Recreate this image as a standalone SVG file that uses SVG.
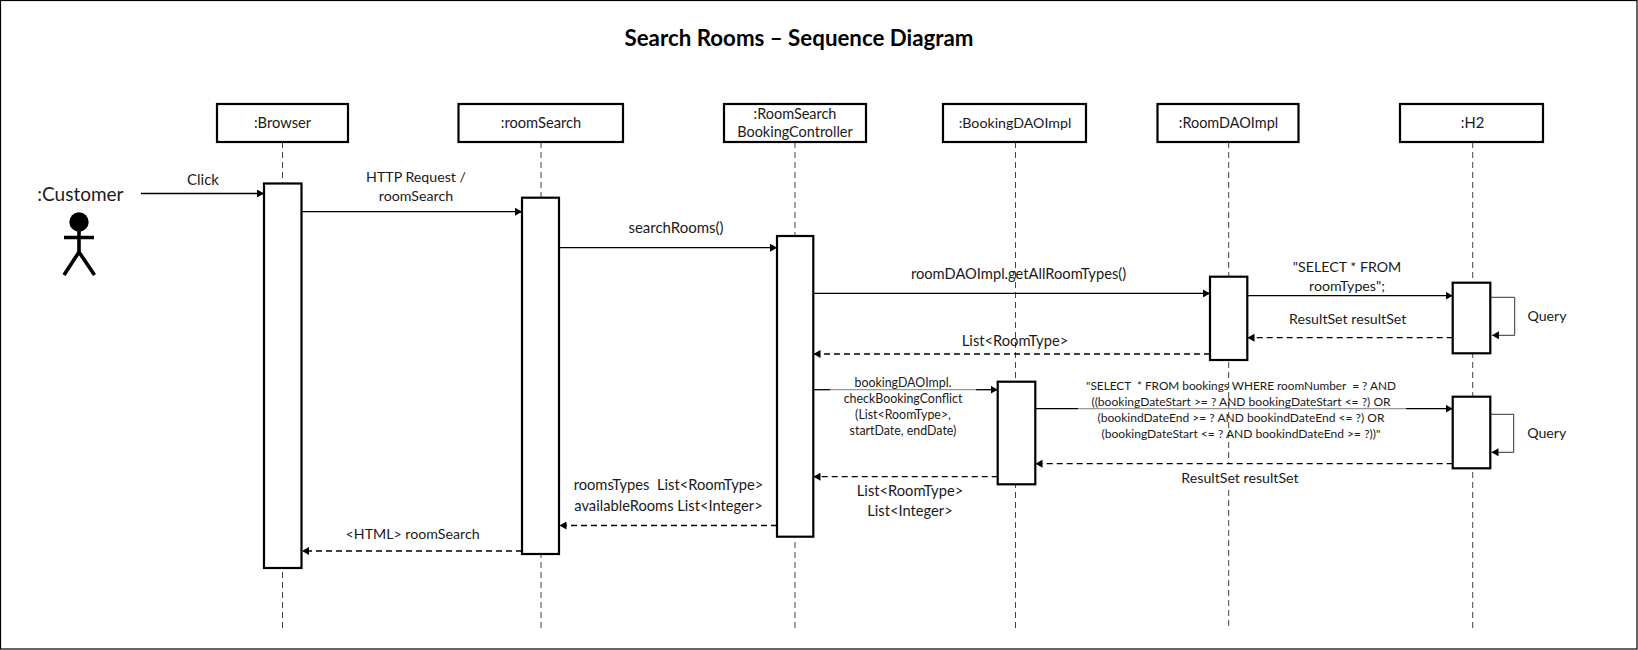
<svg xmlns="http://www.w3.org/2000/svg" width="1638" height="650" viewBox="0 0 1638 650">
<style>
text{font-family:Lato,"Liberation Sans",sans-serif;fill:#1a1a1a;text-anchor:middle;font-size:14.7px;white-space:pre}
.box{fill:#fff;stroke:#000;stroke-width:2.2}
.life{fill:none;stroke:#444;stroke-width:1;stroke-dasharray:6 4}
.msg{fill:none;stroke:#000;stroke-width:1.3;marker-end:url(#a)}
.ret{fill:none;stroke:#000;stroke-width:1.3;stroke-dasharray:6 4;marker-end:url(#a)}
.seg{fill:none;stroke:#000;stroke-width:1.3}
.gray{fill:none;stroke:#999;stroke-width:1.2}
.self{fill:none;stroke:#333;stroke-width:1;marker-end:url(#a)}
.sm{font-size:12.4px}
.sql{font-size:11.8px}
.sql2{font-size:12.05px}
.n{font-size:14.2px}
.m{font-size:14.45px}
.w{font-size:15px}
.actor{fill:none;stroke:#000;stroke-width:3.6}
</style>
<defs><marker id="a" markerUnits="userSpaceOnUse" markerWidth="8" markerHeight="8" refX="7" refY="4" orient="auto"><path d="M0 0L7 4L0 8Z" fill="#000"/></marker></defs>
<rect x="0.5" y="0.5" width="1636.5" height="648.5" fill="#fff" stroke="#000" stroke-width="1.2"/>
<text id="title" x="799" y="46" style="font-size:22.3px;font-weight:700;fill:#000">Search Rooms – Sequence Diagram</text>
<g id="connectors">
<path class="life" d="M282.5 142V630"/>
<path class="life" d="M541 142V630"/>
<path class="life" d="M795 142V630"/>
<path class="life" d="M1015.5 142V630"/>
<path class="life" d="M1228.7 142V464M1228.7 490V630"/>
<path class="life" d="M1472.7 142V630"/>
<path class="msg" d="M141 193.5H264"/>
<path class="msg" d="M302 211.7H522"/>
<path class="msg" d="M559 247.7H777"/>
<path class="msg" d="M813 293.4H1210"/>
<path class="msg" d="M1247 295.7H1452.7"/>
<path class="ret" d="M1452.7 337.7H1247.5"/>
<path class="ret" d="M1210 354H813.5"/>
<path class="seg" d="M813 389.7H830"/><path class="gray" d="M830 389.7H976"/><path class="msg" d="M976 389.7H997.7"/>
<path class="seg" d="M1035 408.7H1078"/><path class="gray" d="M1078 408.7H1406"/><path class="msg" d="M1406 408.7H1452.7"/>
<path class="ret" d="M1452.7 463.7H1035.5"/>
<path class="ret" d="M997.7 476.7H813.5"/>
<path class="ret" d="M777 525.5H559.5"/>
<path class="ret" d="M522 551H302"/>
<path class="self" d="M1490.3 297.3H1514.7V335.3H1492"/>
<path class="self" d="M1490.3 414.3H1513.7V452.3H1491.5"/>
</g>
<g id="customer">
<text x="80.4" y="201" style="font-size:19px">:Customer</text>
<circle cx="79" cy="222" r="9.7" fill="#000"/>
<path class="actor" d="M64 237.5H94M79 231V252M79 252L64 275M79 252L94.5 275"/>
</g>
<g id="browser"><rect class="box" x="217" y="104" width="131" height="38"/><rect class="box" x="264" y="183.5" width="37.5" height="384.5"/><text x="282.5" y="128">:Browser</text></g>
<g id="roomSearch"><rect class="box" x="458.5" y="104" width="164.5" height="38"/><rect class="box" x="522" y="197.7" width="37" height="356.3"/><text x="541" y="128">:roomSearch</text></g>
<g id="controller"><rect class="box" x="724" y="104" width="142" height="38"/><rect class="box" x="777" y="236" width="36.3" height="300.7"/><text class="m" x="795" y="119">:RoomSearch</text><text class="m" x="795" y="137">BookingController</text></g>
<g id="bookingDAO"><rect class="box" x="943" y="104" width="143" height="38"/><rect class="box" x="997.7" y="381.7" width="37.6" height="102.6"/><text class="n" x="1015" y="128">:BookingDAOImpl</text></g>
<g id="roomDAO"><rect class="box" x="1157.5" y="104" width="141" height="38"/><rect class="box" x="1210" y="276.7" width="37.3" height="83.3"/><text class="m" x="1228.5" y="128">:RoomDAOImpl</text></g>
<g id="h2"><rect class="box" x="1400" y="104" width="143" height="38"/><rect class="box" x="1452.7" y="282.7" width="37.6" height="70.6"/><rect class="box" x="1452.7" y="396.7" width="37.6" height="71.6"/><text x="1472.5" y="128">:H2</text></g>
<g id="labels">
<text class="w" x="203" y="185">Click</text>
<text class="n" x="416" y="182">HTTP Request /</text>
<text class="n" x="416" y="201">roomSearch</text>
<text class="w" x="676" y="233">searchRooms()</text>
<text x="1018.5" y="279">roomDAOImpl.getAllRoomTypes()</text>
<text class="n" x="1347" y="271.7">"SELECT * FROM</text>
<text class="n" x="1347" y="291">roomTypes";</text>
<text class="n" x="1347.7" y="324">ResultSet resultSet</text>
<text class="n" x="1547" y="321">Query</text>
<text class="n" x="1546.7" y="438">Query</text>
<text x="1015" y="346">List&lt;RoomType&gt;</text>
<text class="sm" x="903" y="386.7">bookingDAOImpl.</text>
<text class="sm" x="903" y="403.3">checkBookingConflict</text>
<text class="sm" x="903" y="419.3">(List&lt;RoomType&gt;,</text>
<text class="sm" x="903" y="435.3">startDate, endDate)</text>
<text class="sql" x="1241" y="390">"SELECT  * FROM bookings WHERE roomNumber  = ? AND</text>
<text class="sql2" x="1241" y="405.7">((bookingDateStart &gt;= ? AND bookingDateStart &lt;= ?) OR</text>
<text class="sql2" x="1241" y="421.7">(bookindDateEnd &gt;= ? AND bookindDateEnd &lt;= ?) OR</text>
<text class="sql2" x="1241" y="437.7">(bookingDateStart &lt;= ? AND bookindDateEnd &gt;= ?))"</text>
<text class="n" x="1240" y="482.7">ResultSet resultSet</text>
<text x="910" y="496">List&lt;RoomType&gt;</text>
<text x="910" y="515.7">List&lt;Integer&gt;</text>
<text x="668.5" y="490">roomsTypes  List&lt;RoomType&gt;</text>
<text x="668.5" y="511">availableRooms List&lt;Integer&gt;</text>
<text class="n" x="412.6" y="539">&lt;HTML&gt; roomSearch</text>
</g>
</svg>
